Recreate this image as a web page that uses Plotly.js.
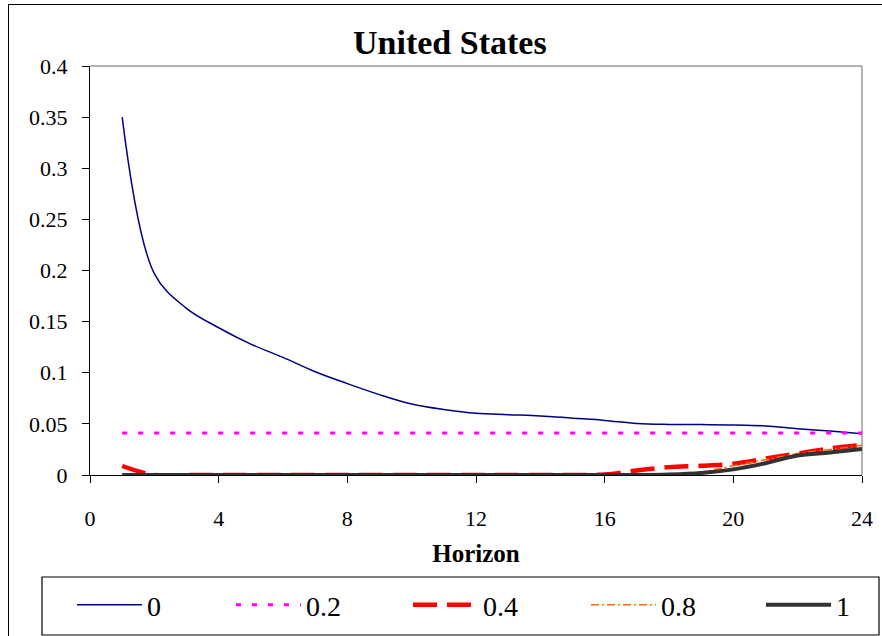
<!DOCTYPE html>
<html>
<head>
<meta charset="utf-8">
<script src="https://cdn.plot.ly/plotly-3.0.1.min.js"></script>
<style>
html,body{margin:0;padding:0;background:#fff;}
#chart{width:882px;height:636px;position:absolute;left:0;top:0;}
#frame{position:absolute;left:8px;top:4px;width:900px;height:700px;border-left:1.5px solid #000;border-top:1.5px solid #000;pointer-events:none;}
</style>
</head>
<body>
<div id="chart"></div>
<div id="frame"></div>
<script>
const horizon = [1,2,3,4,5,6,7,8,9,10,11,12,13,14,15,16,17,18,19,20,21,22,23,24];
const s0   = [0.350,0.197,0.163,0.144,0.128,0.115,0.101,0.0894,0.0786,0.0694,0.064,0.0603,0.059,0.0578,0.0556,0.0534,0.0504,0.0495,0.0493,0.049,0.048,0.0453,0.043,0.0404];
const s02  = [0.041,0.041,0.041,0.041,0.041,0.041,0.041,0.041,0.041,0.041,0.041,0.041,0.041,0.041,0.041,0.041,0.041,0.041,0.041,0.041,0.041,0.041,0.041,0.041];
const s04  = [0.0088,0,0,0,0,0,0,0,0,0,0,0,0,0,0,0.0005,0.0045,0.0077,0.009,0.011,0.016,0.021,0.026,0.0293];
const s08  = [0,0,0,0,0,0,0,0,0,0,0,0,0,0,0,0,0,0.0005,0.003,0.009,0.015,0.021,0.025,0.029];
const s1   = [0,0,0,0,0,0,0,0,0,0,0,0,0,0,0,0,0,0.0005,0.002,0.0055,0.0115,0.019,0.022,0.0254];
const seriesNames = ["0","0.2","0.4","0.8","1"];
const xTicks = [0,4,8,12,16,20,24];
const yTicks = [0,0.05,0.1,0.15,0.2,0.25,0.3,0.35,0.4];
const yTickText = ["0","0.05","0.1","0.15","0.2","0.25","0.3","0.35","0.4"];

const F = "Liberation Serif, Times New Roman, serif";
const traces = [
  {x:horizon,y:s0,name:seriesNames[0],mode:"lines",legendwidth:49,line:{color:"#000080",width:1.5,shape:"spline"}},
  {x:horizon,y:s02,name:seriesNames[1],mode:"lines",legendwidth:67,line:{color:"#FF00FF",width:3,dash:"5px,11px"}},
  {x:horizon,y:s04,name:seriesNames[2],mode:"lines",legendwidth:68,line:{color:"#FF0000",width:4.5,dash:"24px,10px",shape:"spline"}},
  {x:horizon,y:s08,name:seriesNames[3],mode:"lines",legendwidth:65,line:{color:"#FF6600",width:1.5,dash:"8px,3px,2px,3px",shape:"spline"}},
  {x:horizon,y:s1,name:seriesNames[4],mode:"lines",legendwidth:25,line:{color:"#333333",width:4,shape:"spline"}}
];
const layout = {
  width:882,height:636,
  paper_bgcolor:"#fff",plot_bgcolor:"#fff",
  margin:{l:90,r:20,t:66,b:161,autoexpand:false},
  showlegend:true,
  font:{family:F,color:"#000",size:22},
  title:{text:"<b>United States</b>",font:{family:F,size:34,color:"#000"},xref:"container",yref:"container",x:0.51,y:0.934,xanchor:"center",yanchor:"middle"},
  xaxis:{range:[0,24],tickmode:"array",tickvals:xTicks,ticktext:xTicks.map(String),showgrid:false,zeroline:false,
    showline:true,linecolor:"#000",linewidth:1.2,ticks:"outside",ticklen:7,tickcolor:"#000",tickwidth:1,
    ticklabelstandoff:16,tickfont:{family:F,size:22},automargin:false,
    title:{text:"<b>Horizon</b>",font:{family:F,size:25},standoff:15}},
  yaxis:{range:[0,0.4],tickmode:"array",tickvals:yTicks,ticktext:yTickText,showgrid:false,zeroline:false,
    showline:true,linecolor:"#000",linewidth:1.2,ticks:"outside",ticklen:7,tickcolor:"#000",tickwidth:1,
    ticklabelstandoff:10,tickfont:{family:F,size:22},automargin:false},
  shapes:[{type:"line",xref:"paper",yref:"paper",x0:0,x1:1,y0:1,y1:1,line:{color:"#999",width:1.5},layer:"below"},
          {type:"line",xref:"paper",yref:"paper",x0:1,x1:1,y0:0,y1:1,line:{color:"#999",width:1.5},layer:"below"},
          {type:"rect",xref:"paper",yref:"paper",x0:(42-90)/772,x1:(879-90)/772,y0:(475-635)/409,y1:(475-577)/409,line:{color:"#000",width:1.2},fillcolor:"rgba(0,0,0,0)",layer:"above"}],
  legend:{orientation:"h",x:-0.0622,y:(475-605)/409,xanchor:"left",yanchor:"middle",borderwidth:0,
    font:{family:F,size:28},itemwidth:65,indentation:30,bgcolor:"rgba(0,0,0,0)"}
};
Plotly.newPlot("chart",traces,layout,{displayModeBar:false,staticPlot:true});
</script>
</body>
</html>
